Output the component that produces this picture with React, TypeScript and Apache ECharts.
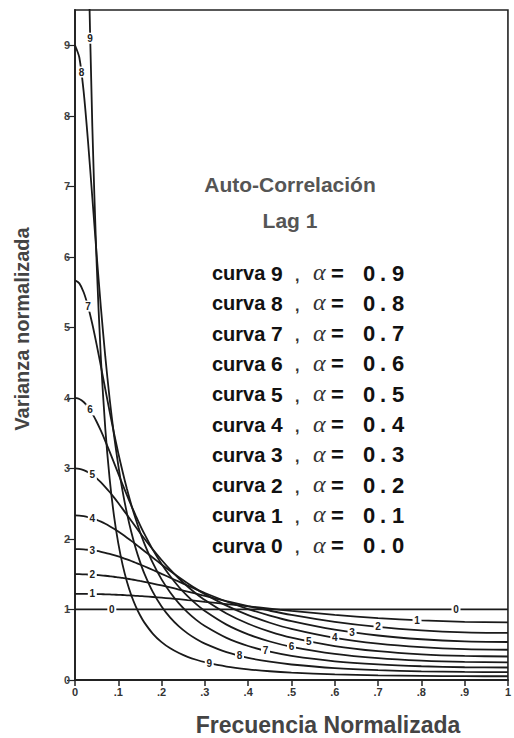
import React, { useEffect, useRef } from "react";
import * as echarts from "echarts";

// Normalized frequency sample points (x)
const freq = [0, 0.01, 0.02, 0.03, 0.04, 0.05, 0.06, 0.07, 0.08, 0.09, 0.1, 0.11, 0.12, 0.13, 0.14, 0.15, 0.16, 0.18, 0.2, 0.22, 0.24, 0.26, 0.28, 0.3, 0.35, 0.4, 0.45, 0.5, 0.6, 0.7, 0.8, 0.9, 1.0];

// Normalized variance (alpha = 0.0 ... 0.9)
const curva0 = [1, 1, 1, 1, 1, 1, 1, 1, 1, 1, 1, 1, 1, 1, 1, 1, 1, 1, 1, 1, 1, 1, 1, 1, 1, 1, 1, 1, 1, 1, 1, 1, 1];
const curva1 = [1.222, 1.222, 1.222, 1.221, 1.22, 1.219, 1.217, 1.215, 1.213, 1.21, 1.208, 1.205, 1.201, 1.198, 1.194, 1.19, 1.186, 1.177, 1.167, 1.157, 1.146, 1.134, 1.122, 1.109, 1.077, 1.044, 1.012, 0.98, 0.924, 0.878, 0.845, 0.825, 0.818];
const curva2 = [1.5, 1.5, 1.498, 1.496, 1.493, 1.489, 1.484, 1.478, 1.471, 1.464, 1.455, 1.447, 1.437, 1.427, 1.416, 1.404, 1.392, 1.367, 1.34, 1.312, 1.283, 1.253, 1.223, 1.193, 1.118, 1.048, 0.982, 0.923, 0.825, 0.753, 0.704, 0.676, 0.667];
const curva3 = [1.857, 1.856, 1.853, 1.847, 1.839, 1.83, 1.818, 1.804, 1.788, 1.771, 1.752, 1.732, 1.71, 1.687, 1.663, 1.638, 1.613, 1.56, 1.505, 1.45, 1.394, 1.34, 1.286, 1.234, 1.113, 1.006, 0.914, 0.835, 0.714, 0.631, 0.578, 0.548, 0.539];
const curva4 = [2.333, 2.331, 2.323, 2.311, 2.293, 2.271, 2.245, 2.215, 2.181, 2.144, 2.104, 2.062, 2.018, 1.973, 1.926, 1.878, 1.83, 1.734, 1.638, 1.545, 1.456, 1.372, 1.292, 1.218, 1.054, 0.92, 0.812, 0.724, 0.597, 0.515, 0.465, 0.437, 0.429];
const curva5 = [3, 2.994, 2.976, 2.948, 2.908, 2.859, 2.802, 2.736, 2.665, 2.589, 2.509, 2.426, 2.342, 2.257, 2.173, 2.089, 2.007, 1.849, 1.701, 1.564, 1.439, 1.326, 1.224, 1.133, 0.942, 0.797, 0.686, 0.6, 0.481, 0.408, 0.364, 0.341, 0.333];
const curva6 = [4, 3.985, 3.942, 3.871, 3.777, 3.662, 3.531, 3.388, 3.237, 3.082, 2.926, 2.771, 2.62, 2.474, 2.334, 2.201, 2.075, 1.845, 1.644, 1.47, 1.319, 1.188, 1.075, 0.978, 0.785, 0.647, 0.546, 0.471, 0.37, 0.31, 0.275, 0.256, 0.25];
const curva7 = [5.667, 5.624, 5.498, 5.301, 5.048, 4.756, 4.443, 4.122, 3.806, 3.503, 3.217, 2.952, 2.708, 2.486, 2.285, 2.102, 1.938, 1.656, 1.427, 1.24, 1.086, 0.959, 0.853, 0.765, 0.597, 0.482, 0.401, 0.342, 0.265, 0.221, 0.195, 0.181, 0.177];
const curva8 = [9, 8.826, 8.342, 7.643, 6.842, 6.03, 5.268, 4.584, 3.988, 3.477, 3.043, 2.675, 2.363, 2.098, 1.872, 1.679, 1.513, 1.245, 1.042, 0.884, 0.76, 0.661, 0.581, 0.515, 0.394, 0.314, 0.259, 0.22, 0.169, 0.14, 0.123, 0.114, 0.111];
const curva9 = [19, 17.45, 14.02, 10.56, 7.853, 5.908, 4.536, 3.561, 2.855, 2.332, 1.937, 1.632, 1.393, 1.202, 1.048, 0.922, 0.817, 0.655, 0.537, 0.449, 0.382, 0.329, 0.287, 0.253, 0.191, 0.152, 0.124, 0.105, 0.08, 0.066, 0.058, 0.054, 0.053];

const curves = [curva0, curva1, curva2, curva3, curva4, curva5, curva6, curva7, curva8, curva9];
const alphaValues = ["0.0", "0.1", "0.2", "0.3", "0.4", "0.5", "0.6", "0.7", "0.8", "0.9"];

// Where the curve number labels sit on each curve [freq, variance]
const labelPos = [
  [[0.085, 1], [0.88, 1]],
  [[0.04, 1.22], [0.79, 0.848]],
  [[0.04, 1.493], [0.7, 0.753]],
  [[0.04, 1.839], [0.64, 0.676]],
  [[0.04, 2.293], [0.6, 0.597]],
  [[0.04, 2.908], [0.54, 0.545]],
  [[0.035, 3.83], [0.5, 0.471]],
  [[0.03, 5.301], [0.44, 0.415]],
  [[0.015, 8.62], [0.38, 0.343]],
  [[0.035, 9.1], [0.31, 0.238]],
];

const xTickLabels = ["0", ".1", ".2", ".3", ".4", ".5", ".6", ".7", ".8", ".9", "1"];
const yTickValues = [0, 1, 2, 3, 4, 5, 6, 7, 8, 9];

const titleLines = ["Auto-Correlación", "Lag 1"];
const xAxisName = "Frecuencia Normalizada";
const yAxisName = "Varianza normalizada";

const SANS = "'Liberation Sans', Arial, sans-serif";

function buildLegendGraphics() {
  const els: any[] = [];
  els.push({
    type: "text",
    style: { text: titleLines[0], x: 290, y: 184, align: "center", verticalAlign: "middle", font: `bold 21px ${SANS}`, fill: "#555" },
  });
  els.push({
    type: "text",
    style: { text: titleLines[1], x: 290, y: 220, align: "center", verticalAlign: "middle", font: `bold 21px ${SANS}`, fill: "#555" },
  });
  for (let i = 0; i < 10; i++) {
    const k = 9 - i;
    const y = 273 + i * 30.3;
    els.push({ type: "text", style: { text: "curva", x: 212, y, verticalAlign: "middle", font: `bold 20px ${SANS}`, fill: "#111" } });
    els.push({ type: "text", style: { text: String(k), x: 271, y, verticalAlign: "middle", font: `bold 21px ${SANS}`, fill: "#111" } });
    els.push({ type: "text", style: { text: ",", x: 295, y: y + 2, verticalAlign: "middle", font: `bold 16px ${SANS}`, fill: "#333" } });
    els.push({ type: "text", style: { text: "α", x: 313, y: y - 1, verticalAlign: "middle", font: `italic 24px 'Liberation Serif', serif`, fill: "#333" } });
    els.push({ type: "text", style: { text: "=", x: 331, y, verticalAlign: "middle", font: `bold 22px ${SANS}`, fill: "#111" } });
    const a = alphaValues[k];
    const offs = [0, 17, 29];
    for (let c = 0; c < a.length; c++) {
      els.push({ type: "text", style: { text: a[c], x: 363 + offs[c], y, verticalAlign: "middle", font: `bold 22px ${SANS}`, fill: "#111" } });
    }
  }
  els.push({
    type: "text",
    style: { text: xAxisName, x: 328, y: 725, align: "center", verticalAlign: "middle", font: `bold 23px ${SANS}`, fill: "#444" },
  });
  els.push({
    type: "text", x: 22, y: 329, rotation: Math.PI / 2,
    style: { text: yAxisName, x: 0, y: 0, align: "center", verticalAlign: "middle", font: `bold 20px ${SANS}`, fill: "#444" },
  });
  return els;
}

export default function App() {
  const ref = useRef<HTMLDivElement>(null);
  useEffect(() => {
    document.body.style.margin = "0";
    const chart = echarts.init(ref.current!, null, { renderer: "svg" });
    const series = curves.map((vals, k) => ({
      type: "line",
      name: "curva " + k,
      data: freq.map((f, i) => [f, vals[i]]),
      showSymbol: false,
      symbol: "none",
      smooth: 0.25,
      clip: true,
      lineStyle: { color: "#1a1a1a", width: 1.8 },
      markPoint: {
        symbol: "rect",
        symbolSize: [9, 11],
        itemStyle: { color: "#fff" },
        label: { show: true, position: "inside", color: "#222", fontSize: 10, fontWeight: "bold", formatter: String(k) },
        data: labelPos[k].map((p) => ({ coord: p })),
      },
    }));
    chart.setOption({
      animation: false,
      backgroundColor: "#fff",
      textStyle: { fontFamily: SANS },
      grid: { left: 75, right: 2, top: 10, bottom: 58, show: true, borderColor: "#222", borderWidth: 1.6, backgroundColor: "transparent" },
      xAxis: {
        type: "value",
        min: 0,
        max: 1,
        interval: 0.1,
        axisLine: { show: true, lineStyle: { color: "#222", width: 1.8 } },
        axisTick: { show: true, inside: false, length: 6, lineStyle: { color: "#222", width: 1.5 } },
        axisLabel: {
          formatter: (v: number) => xTickLabels[Math.round(v * 10)] ?? "",
          fontSize: 11,
          fontWeight: "bold",
          color: "#333",
          margin: 6,
        },
        splitLine: { show: false },
      },
      yAxis: {
        type: "value",
        min: 0,
        max: 9.5,
        interval: 1,
        axisLine: { show: true, lineStyle: { color: "#222", width: 1.8 } },
        axisTick: { show: true, inside: false, length: 8, lineStyle: { color: "#222", width: 1.2 }, customValues: yTickValues },
        axisLabel: {
          showMaxLabel: false,
          formatter: (v: number) => (yTickValues.indexOf(v) >= 0 ? String(v) : ""),
          fontSize: 11,
          fontWeight: "bold",
          color: "#444",
          margin: 5,
        },
        splitLine: { show: false },
      },
      graphic: buildLegendGraphics(),
      series,
    });
    return () => chart.dispose();
  }, []);
  return <div ref={ref} style={{ width: 514, height: 738, background: "#fff" }} />;
}
